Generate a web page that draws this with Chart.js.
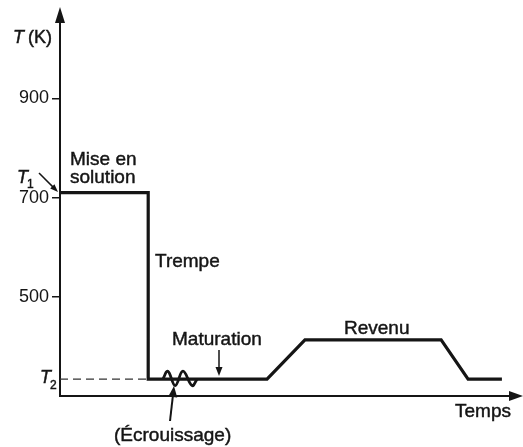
<!DOCTYPE html>
<html>
<head>
<meta charset="utf-8">
<script src="https://cdn.jsdelivr.net/npm/chart.js@4/dist/chart.umd.min.js"></script>
<style>
  html,body{margin:0;padding:0;background:#fff;}
  #wrap{width:523px;height:447px;position:relative;}
</style>
</head>
<body>
<div id="wrap"><canvas id="c"></canvas></div>
<script>
// profil thermique (temps arbitraire 0..100, T en K)
const stepTime = [0, 19.3, 19.3, 45.3, 53.6, 83.4, 89.3, 96.7];
const stepTemp = [710, 710, 334, 334, 413, 413, 334, 334];
const waveTime = [22.5, 23.6, 25.2, 26.9, 28.9, 30.0];
const waveTemp = [334, 350, 321, 350, 321, 334];
const dashTime = [0, 19.3];
const dashTemp = [334, 334];
const yTicks = [500, 700, 900];

const INK = '#151515';
const FONT = '"Liberation Sans", Arial, Helvetica, sans-serif';

const pts = (xs, ys) => xs.map((x, i) => ({x, y: ys[i]}));

function arrow(ctx, x1, y1, x2, y2, len, half){
  const a = Math.atan2(y2 - y1, x2 - x1);
  ctx.beginPath(); ctx.moveTo(x1, y1); ctx.lineTo(x2 - Math.cos(a)*len*0.6, y2 - Math.sin(a)*len*0.6); ctx.stroke();
  ctx.beginPath();
  ctx.moveTo(x2, y2);
  ctx.lineTo(x2 - Math.cos(a)*len + Math.sin(a)*half, y2 - Math.sin(a)*len - Math.cos(a)*half);
  ctx.lineTo(x2 - Math.cos(a)*len - Math.sin(a)*half, y2 - Math.sin(a)*len + Math.cos(a)*half);
  ctx.closePath(); ctx.fill();
}

function label(ctx, txt, x, y){
  ctx.fillText(txt, x, y);
  ctx.strokeText(txt, x, y);
}

const annotations = {
  id: 'annotations',
  afterDraw(chart){
    const {ctx, chartArea:a} = chart;
    ctx.save();
    ctx.fillStyle = INK; ctx.strokeStyle = INK;
    // flèches des axes
    ctx.lineWidth = 2;
    ctx.beginPath(); ctx.moveTo(a.left, a.top); ctx.lineTo(a.left, 20); ctx.stroke();
    ctx.beginPath(); ctx.moveTo(a.left, 7); ctx.lineTo(a.left-5, 23); ctx.lineTo(a.left+5, 23); ctx.closePath(); ctx.fill();
    ctx.beginPath(); ctx.moveTo(a.right, a.bottom); ctx.lineTo(510, a.bottom); ctx.stroke();
    ctx.beginPath(); ctx.moveTo(523, a.bottom); ctx.lineTo(509, a.bottom-5); ctx.lineTo(509, a.bottom+5); ctx.closePath(); ctx.fill();

    ctx.lineWidth = 0.45;
    ctx.font = '19px ' + FONT;
    ctx.textBaseline = 'middle';
    ctx.textAlign = 'left';
    label(ctx, 'Mise en', 70, 160);
    label(ctx, 'solution', 70, 178);
    label(ctx, 'Trempe', 155, 262);
    label(ctx, 'Maturation', 172, 340);
    label(ctx, 'Revenu', 344, 329);
    label(ctx, 'Temps', 455, 412);
    label(ctx, '(Écrouissage)', 114, 436);

    // T (K), T1, T2
    ctx.font = 'italic 18px ' + FONT;
    label(ctx, 'T', 13, 38);
    label(ctx, 'T', 17, 178);
    label(ctx, 'T', 40, 378);
    ctx.font = '18px ' + FONT;
    label(ctx, '(K)', 28, 38);
    ctx.font = '12px ' + FONT;
    label(ctx, '1', 27, 185);
    label(ctx, '2', 50, 386);

    // flèches d'annotation
    ctx.lineWidth = 1.5;
    arrow(ctx, 39, 173, 58, 192, 8, 3);
    arrow(ctx, 219, 350, 219, 376, 9, 3.5);
    ctx.lineWidth = 2;
    arrow(ctx, 170, 421, 174, 386, 11, 4.5);
    ctx.restore();
  }
};

new Chart(document.getElementById('c'), {
  type: 'line',
  data: {
    datasets: [
      { data: pts(stepTime, stepTemp), borderColor: INK, borderWidth: 3.2, pointRadius: 0, tension: 0, borderJoinStyle: 'miter' },
      { data: pts(waveTime, waveTemp), borderColor: INK, borderWidth: 2.8, pointRadius: 0, tension: 0.4 },
      { data: pts(dashTime, dashTemp), borderColor: '#333', borderWidth: 1.3, borderDash: [8, 5], pointRadius: 0 }
    ]
  },
  options: {
    responsive: true, maintainAspectRatio: false, animation: false,
    layout: { padding: { top: 14, right: 6, bottom: 51, left: 0 } },
    plugins: { legend: { display: false }, tooltip: { enabled: false } },
    scales: {
      x: {
        type: 'linear', min: 0, max: 100,
        ticks: { display: false },
        grid: { display: false },
        border: { display: true, color: INK, width: 2 },
        afterFit(s){ s.height = 0; }
      },
      y: {
        min: 300, max: 1070,
        afterBuildTicks(s){ s.ticks = yTicks.map(v => ({value: v})); },
        ticks: { color: INK, font: { size: 18, family: FONT }, padding: 3 },
        grid: { display: true, drawOnChartArea: false, drawTicks: true, tickLength: 8, color: INK, lineWidth: 1.5 },
        border: { display: true, color: INK, width: 2 },
        afterFit(s){ s.width = 60; }
      }
    }
  },
  plugins: [annotations]
});
</script>
</body>
</html>
